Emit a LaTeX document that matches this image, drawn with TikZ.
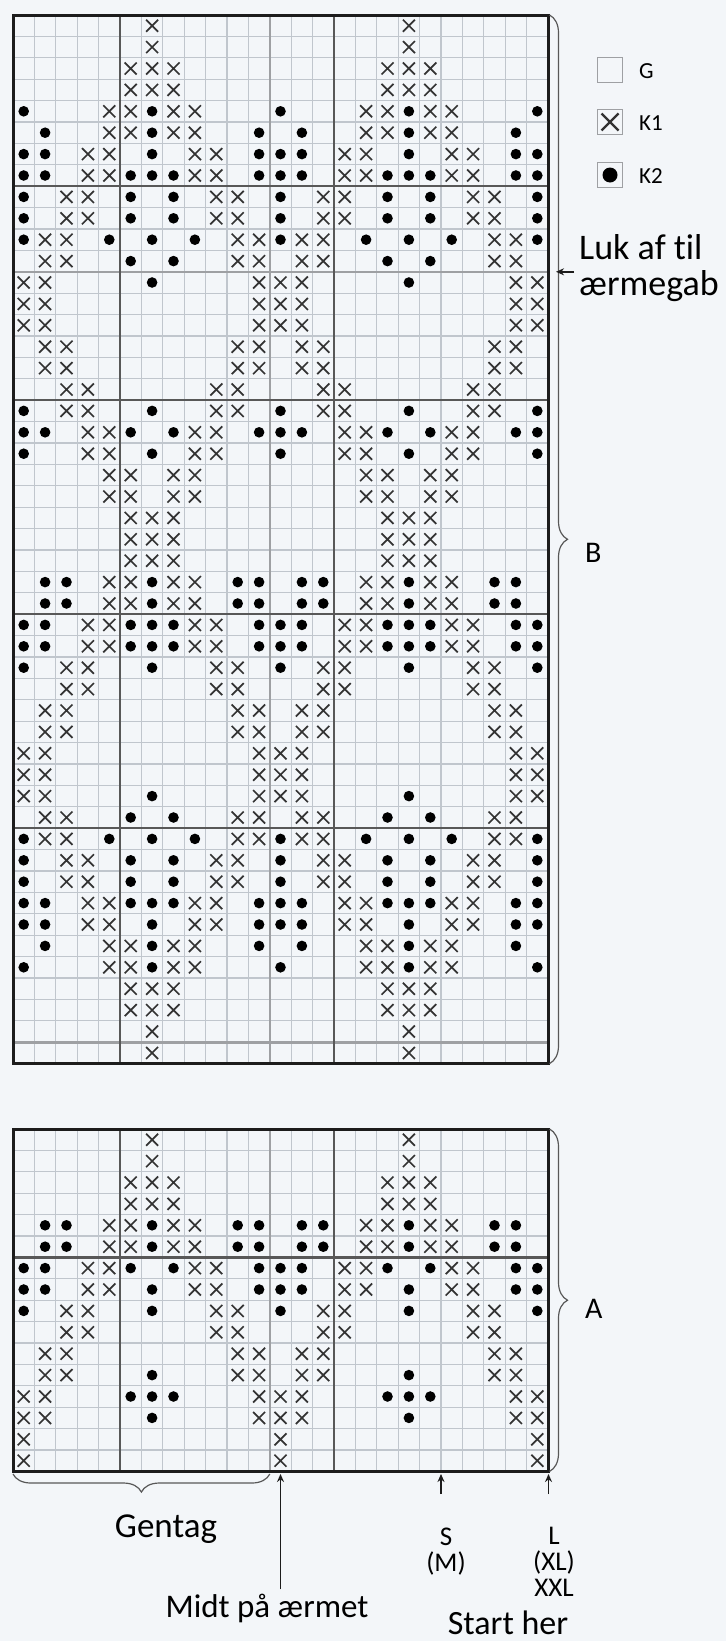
\documentclass[tikz,border=0pt]{standalone}
\usepackage{fontspec}
\setmainfont{Carlito}[Ligatures=NoCommon]
\usetikzlibrary{arrows.meta,decorations.pathreplacing}

\definecolor{paper}{RGB}{243,246,249}
\definecolor{gridgray}{RGB}{192,198,205}
\definecolor{rulegray}{RGB}{88,88,88}
\definecolor{midgray}{RGB}{158,160,163}
\definecolor{ink}{RGB}{28,28,28}

\tikzset{
  >={Stealth},
  cellline/.style={draw=gridgray, line width=1.2pt},
  tenline/.style={draw=rulegray, line width=2.2pt},
  midline/.style={draw=midgray, line width=2.6pt},
  frame/.style={draw=ink, line width=3pt},
  kcross/.style={draw=ink!90, line width=1.7pt},
  kdot/.style={fill=black},
  keybox/.style={draw=midgray, line width=1.2pt, minimum size=25pt, inner sep=0pt},
  keytxt/.style={anchor=west, inner sep=0pt, font=\fontsize{23}{24}\selectfont},
  bigtxt/.style={inner sep=0pt, font=\fontsize{34}{38}\selectfont},
  sizetxt/.style={inner sep=0pt, align=center, font=\fontsize{27}{26}\selectfont},
  parttxt/.style={anchor=base west, inner sep=0pt, font=\fontsize{30}{30}\selectfont},
  curly/.style={draw=rulegray, line width=1.2pt, decorate, decoration={brace, amplitude=18pt}},
  marker/.style={-{Stealth[length=8pt, width=7pt]}, draw=ink, line width=1.4pt}
}

% one chart row: 12 cells, repeated to 25 columns
\def\cs{21.4}
\newcount\kcol
\def\kmarks#1{\kcol=0 \expandafter\knext#1\relax}
\def\knext#1{\ifx#1\relax\else\kput#1\advance\kcol by 1 \expandafter\knext\fi}
\def\kput#1{\if#1x\krepeat\kcrossat\fi\if#1o\krepeat\kdotat\fi}
\def\krepeat#1{\pgfmathsetmacro\kx{13+(\the\kcol+0.5)*\cs}#1%
  \pgfmathsetmacro\kx{13+(\the\kcol+12.5)*\cs}#1%
  \ifnum\kcol=0 \pgfmathsetmacro\kx{13+24.5*\cs}#1\fi}
\def\kcrossat{\draw[kcross] (\kx-6,\ky-6) -- (\kx+6,\ky+6) (\kx-6,\ky+6) -- (\kx+6,\ky-6);}
\def\kdotat{\fill[kdot] (\kx,\ky) circle[radius=5.3];}

\begin{document}
\begin{tikzpicture}[x=1pt, y=-1pt]
\useasboundingbox (0,0) rectangle (726,1641);
\fill[paper] (0,0) rectangle (726,1641);

% chart B
\coordinate (Btl) at (13,15);
\coordinate (Bbr) at (548,1063.6);
\foreach \i in {1,...,24} \draw[cellline] ({13+\i*\cs},15) -- ({13+\i*\cs},1063.6);
\foreach \j in {1,...,48} \draw[cellline] (13,{15+\j*\cs}) -- (548,{15+\j*\cs});
\foreach \j in {12,48} \draw[midline] (13,{15+\j*\cs}) -- (548,{15+\j*\cs});
\draw[midline] ({13+12*\cs},15) -- ({13+12*\cs},1063.6);
\foreach \j in {8,18,28,38} \draw[tenline] (13,{15+\j*\cs}) -- (548,{15+\j*\cs});
\foreach \i in {5,15} \draw[tenline] ({13+\i*\cs},15) -- ({13+\i*\cs},1063.6);
\foreach \r/\p in {0/------x-----,1/------x-----,2/-----xxx----,3/-----xxx----,
  4/o---xxoxx---,5/-o--xxoxx--o,6/oo-xx-o-xx-o,7/oo-xxoooxx-o,8/o-xx-o-o-xx-,
  9/o-xx-o-o-xx-,10/oxx-o-o-o-xx,11/-xx--o-o--xx,12/xx----o----x,13/xx---------x,
  14/xx---------x,15/-xx-------xx,16/-xx-------xx,17/--xx-----xx-,18/o-xx--o--xx-,
  19/oo-xxo-oxx-o,20/o--xx-o-xx--,21/----xx-xx---,22/----xx-xx---,23/-----xxx----,
  24/-----xxx----,25/-----xxx----,26/-oo-xxoxx-oo,27/-oo-xxoxx-oo,28/oo-xxoooxx-o,
  29/oo-xxoooxx-o,30/o-xx--o--xx-,31/--xx-----xx-,32/-xx-------xx,33/-xx-------xx,
  34/xx---------x,35/xx---------x,36/xx----o----x,37/-xx--o-o--xx,38/oxx-o-o-o-xx,
  39/o-xx-o-o-xx-,40/o-xx-o-o-xx-,41/oo-xxoooxx-o,42/oo-xx-o-xx-o,43/-o--xxoxx--o,
  44/o---xxoxx---,45/-----xxx----,46/-----xxx----,47/------x-----,48/------x-----}{
  \pgfmathsetmacro\ky{15+(\r+0.5)*\cs}
  \kmarks{\p}}
\draw[frame] (Btl) rectangle (Bbr);

% chart A
\coordinate (Atl) at (13,1129);
\coordinate (Abr) at (548,1471.4);
\foreach \i in {1,...,24} \draw[cellline] ({13+\i*\cs},1129) -- ({13+\i*\cs},1471.4);
\foreach \j in {1,...,15} \draw[cellline] (13,{1129+\j*\cs}) -- (548,{1129+\j*\cs});
\draw[midline] ({13+12*\cs},1129) -- ({13+12*\cs},1471.4);
\draw[tenline] (13,{1129+6*\cs}) -- (548,{1129+6*\cs});
\foreach \i in {5,15} \draw[tenline] ({13+\i*\cs},1129) -- ({13+\i*\cs},1471.4);
\foreach \r/\p in {0/------x-----,1/------x-----,2/-----xxx----,3/-----xxx----,
  4/-oo-xxoxx-oo,5/-oo-xxoxx-oo,6/oo-xxo-oxx-o,7/oo-xx-o-xx-o,8/o-xx--o--xx-,
  9/--xx-----xx-,10/-xx-------xx,11/-xx---o---xx,12/xx---ooo---x,13/xx----o----x,
  14/x-----------,15/x-----------}{
  \pgfmathsetmacro\ky{1129+(\r+0.5)*\cs}
  \kmarks{\p}}
\draw[frame] (Atl) rectangle (Abr);

% key
\node[keybox] (boxG) at (610,70) {};
\node[keytxt] (txtG) at (639,71) {G};
\node[keybox] (boxK1) at (610,122) {};
\draw[kcross, line width=2.2pt] (boxK1.center) +(-8.5,-8.5) -- +(8.5,8.5) +(-8.5,8.5) -- +(8.5,-8.5);
\node[keytxt] (txtK1) at (639,123) {K1};
\node[keybox] (boxK2) at (610,175) {};
\fill[kdot] (boxK2.center) circle[radius=7.5];
\node[keytxt] (txtK2) at (639,176) {K2};

% braces and labels
\draw[curly] (Btl -| Bbr) ++(1.5,0) -- ([xshift=1.5pt]Bbr);
\node[parttxt] (partB) at (585,562) {B};
\draw[curly] (Atl -| Abr) ++(1.5,0) -- ([xshift=1.5pt]Abr);
\node[parttxt] (partA) at (585,1318) {A};
\node[bigtxt, anchor=west, align=left, font=\fontsize{36}{36}\selectfont] (luk) at (579,268) {Luk af til\\ærmegab};
\coordinate (lukTail) at (574,{15+12*\cs});
\coordinate (lukTip) at (556,{15+12*\cs});
\draw[marker] (lukTail) -- (lukTip);

\coordinate (gentagR) at ({13+12*\cs},1474);
\coordinate (gentagL) at (13,1474);
\draw[curly] (gentagR) -- (gentagL);
\node[bigtxt, anchor=base, font=\fontsize{35}{38}\selectfont] (gentag) at (166,1537) {Gentag};

\node[bigtxt, anchor=base, font=\fontsize{33}{38}\selectfont] (midt) at (267,1617) {Midt på ærmet};
\coordinate (midtTip) at ({13+12.5*\cs},1474);
\draw[marker, shorten <=4pt] (midt.north -| midtTip) -- (midtTip);

\node[sizetxt, anchor=north] (sizeS) at (446,1528) {S\\(M)};
\coordinate (sTail) at ({13+20*\cs},1494);
\coordinate (sTip) at ({13+20*\cs},1474);
\draw[marker] (sTail) -- (sTip);
\node[sizetxt, anchor=north] (sizeL) at (554,1527) {L\\(XL)\\XXL};
\coordinate (lTail) at (548.5,1494);
\coordinate (lTip) at (548.5,1474);
\draw[marker] (lTail) -- (lTip);
\node[bigtxt, anchor=base] (start) at (508,1634) {Start her};
\end{tikzpicture}
\end{document}
